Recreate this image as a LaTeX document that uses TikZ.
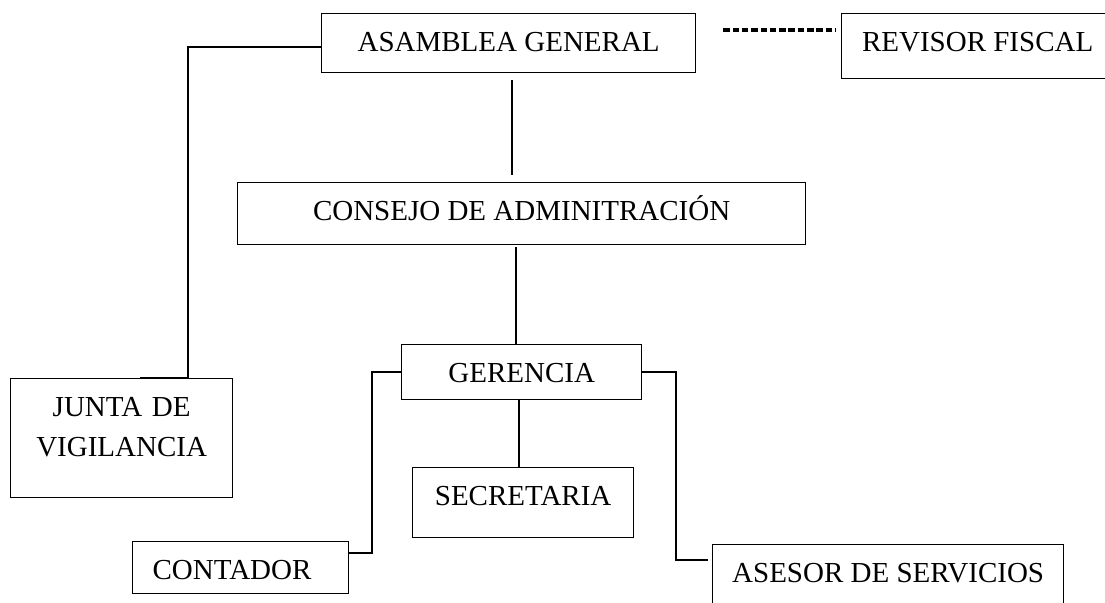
\documentclass[tikz,border=0pt]{standalone}
\usepackage{fontspec}
\setmainfont{Liberation Serif}
\usetikzlibrary{calc}

\begin{document}
\begin{tikzpicture}[x=1pt,y=-1pt,
  orgbox/.style={draw,line width=1.3pt,anchor=north west,inner xsep=0pt,inner ysep=0pt,
    text height=38pt,font=\fontsize{29}{40}\selectfont},
  link/.style={line width=2pt}]

  \useasboundingbox (0,0) rectangle (1105,602);
  \clip (0,0) rectangle (1105,602);

  \node[orgbox,minimum width=374pt,text depth=21pt] (asamblea) at (321,13) {ASAMBLEA GENERAL};
  \node[orgbox,minimum width=272pt,text depth=27pt] (revisor) at (841,13) {REVISOR FISCAL};
  \node[orgbox,minimum width=568pt,text depth=24pt] (consejo) at (237,182) {CONSEJO DE ADMINITRACIÓN};
  \node[orgbox,text width=222pt,align=center,text depth=81pt] (junta) at (10,378) {JUNTA DE\\VIGILANCIA};
  \node[orgbox,minimum width=240pt,text depth=17pt] (gerencia) at (401,344) {GERENCIA};
  \node[orgbox,minimum width=221pt,text depth=32pt] (secretaria) at (412,467) {SECRETARIA};
  \node[orgbox,inner xsep=20pt,text width=176pt,align=left,text depth=14pt] (contador) at (132,541) {CONTADOR};
  \node[orgbox,minimum width=351pt,text depth=40pt] (asesor) at (712,544) {ASESOR DE SERVICIOS};

  \draw[line width=3.2pt, dash pattern=on 6.5pt off 2.8pt]
    ($(asamblea.north east)+(27,17)$) -- ($(revisor.north west)+(-5,17)$);
  \draw[link] ([yshift=-4pt]asamblea.west) -| ([xshift=66pt]junta.north) -- ([xshift=18pt]junta.north);
  \draw[link] ($(asamblea.south)+(3,7)$) -- ($(asamblea.south |- consejo.north)+(3,-7)$);
  \draw[link] ($(gerencia.north)+(-6,0)$) -- ($(gerencia.north |- consejo.south)+(-6,2)$);
  \draw[link] ($(gerencia.south)+(-3,0)$) -- ($(gerencia.south |- secretaria.north)+(-3,0)$);
  \draw[link] (gerencia.west) -- ++(-29,0) |- ([yshift=15pt]contador.east);
  \draw[link] (gerencia.east) -- ++(34,0) |- ($(asesor.north west)+(-4,16)$);
\end{tikzpicture}
\end{document}
